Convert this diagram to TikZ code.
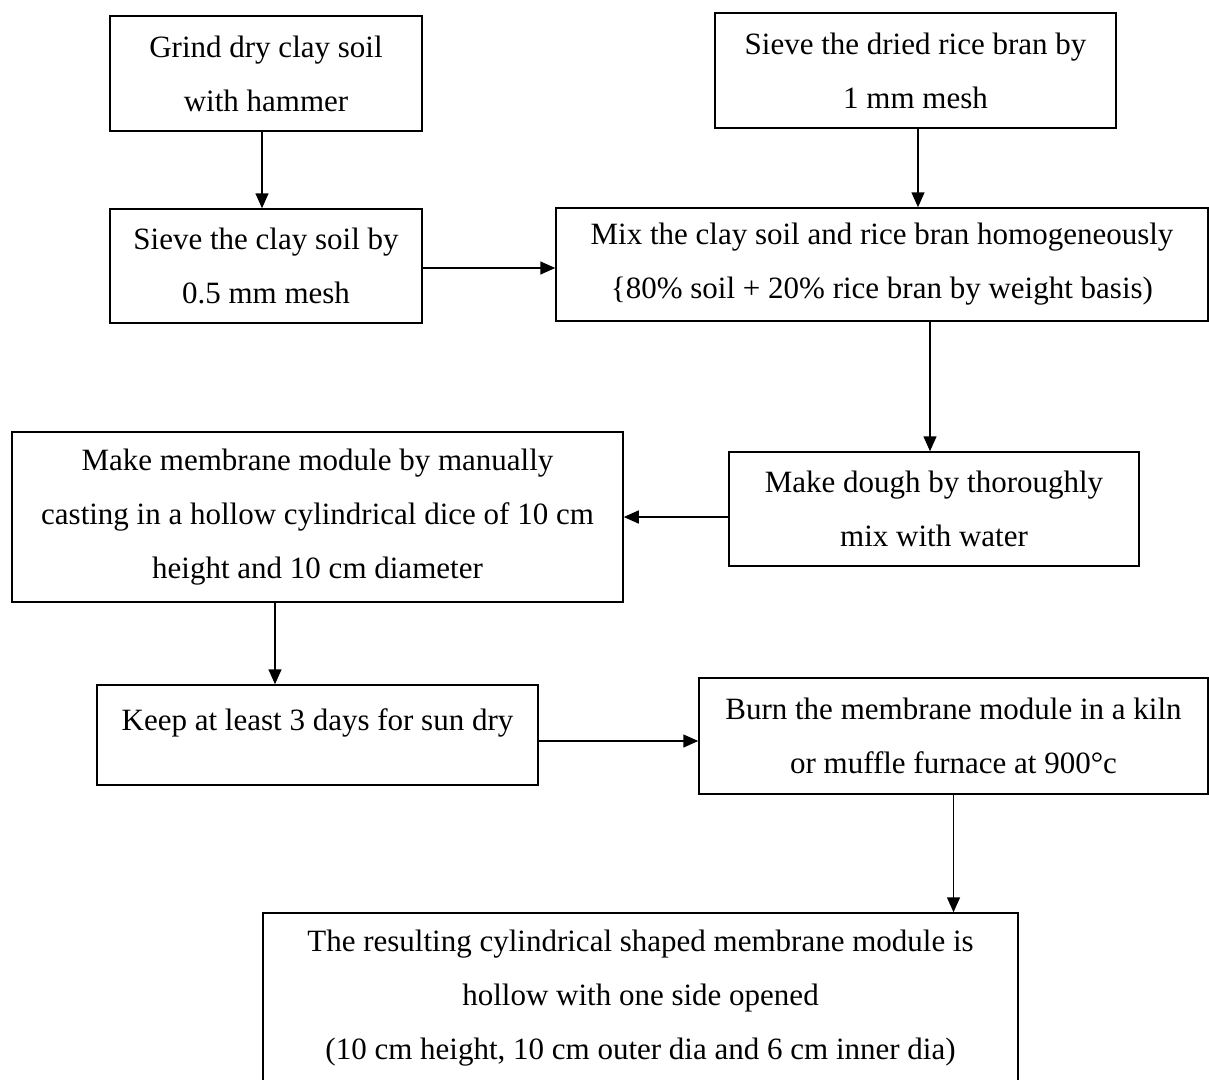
\documentclass[tikz,border=0pt]{standalone}
\usepackage{fontspec}
\setmainfont{Liberation Serif}
\usetikzlibrary{arrows.meta}
\begin{document}
\begin{tikzpicture}[x=1pt,y=-1pt,
  box/.style={draw=black, line width=1.5pt, inner sep=0pt, align=center,
              font=\fontsize{31}{54}\selectfont},
  lbl/.style={inner sep=0pt, align=center, font=\fontsize{31}{54}\selectfont},
  arr/.style={line width=1.5pt, -{Triangle[width=13pt,length=15pt]}}]
\useasboundingbox (0,0) rectangle (1209,1079);
\clip (0,0) rectangle (1209,1079);

% process steps
\node[box, minimum width=312, minimum height=115] (grind) at (266,73.5)
  {Grind dry clay soil\\with hammer};
\node[box, minimum width=401, minimum height=115] (bran) at (915.5,70.5)
  {Sieve the dried rice bran by\\1 mm mesh};
\node[box, minimum width=312, minimum height=114] (sieveclay) at (266,266)
  {Sieve the clay soil by\\0.5 mm mesh};
\node[box, minimum width=652, minimum height=113] (mix) at (882,264.5)
  {Mix the clay soil and rice bran homogeneously\\\{80\% soil + 20\% rice bran by weight basis)};
\node[box, minimum width=611, minimum height=170] (cast) at (317.5,517)
  {Make membrane module by manually\\casting in a hollow cylindrical dice of 10 cm\\height and 10 cm diameter};
\node[box, minimum width=410, minimum height=114] (dough) at (934,509)
  {Make dough by thoroughly\\mix with water};
\node[box, minimum width=441, minimum height=100] (keep) at (317.5,735) {};
\node[lbl] (keeptext) at (317.5,723) {Keep at least 3 days for sun dry};
\node[box, minimum width=509, minimum height=116] (burn) at (953.5,736)
  {Burn the membrane module in a kiln\\or muffle furnace at 900°c};
\node[box, minimum width=755, minimum height=170] (result) at (640.5,998)
  {The resulting cylindrical shaped membrane module is\\hollow with one side opened\\(10 cm height, 10 cm outer dia and 6 cm inner dia)};

% connectors
\draw[arr] ([xshift=-4]grind.south) -- ([xshift=-4]grind.south |- sieveclay.north);
\draw[arr] ([xshift=2.5]bran.south) -- ([xshift=2.5]bran.south |- mix.north);
\draw[arr] ([yshift=-2]sieveclay.east) -- ([yshift=-2]sieveclay.east -| mix.west);
\draw[arr] ([xshift=48]mix.south) -- ([xshift=48]mix.south |- dough.north);
\draw[arr] ([yshift=-8]dough.west) -- ([yshift=-8]dough.west -| cast.east);
\draw[arr] ([xshift=-42.5]cast.south) -- ([xshift=-42.5]cast.south |- keep.north);
\draw[arr] ([yshift=-6]keep.east) -- ([yshift=-6]keep.east -| burn.west);
\draw[arr] (burn.south) -- (burn.south |- result.north);
\end{tikzpicture}
\end{document}
